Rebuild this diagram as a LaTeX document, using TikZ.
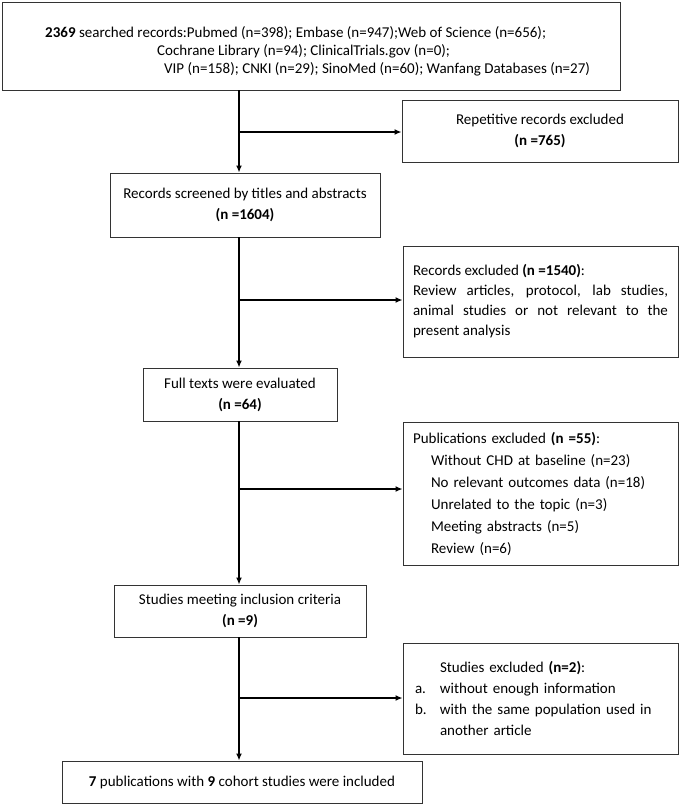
\documentclass[tikz,border=0pt]{standalone}
\usepackage{fontspec}
\setmainfont{Carlito}
\usetikzlibrary{arrows.meta,fit}
\begin{document}
\begin{tikzpicture}[x=1pt,y=-1pt,
  box/.style={draw=black!80, line width=0.9pt, inner sep=0pt, font=\fontsize{15}{21}\selectfont},
  flow/.style={line width=1.4pt, -{Latex[length=7pt,width=6pt]}}]
\useasboundingbox (0,0) rectangle (685,806);

% top box
\node[font=\fontsize{15}{18}\selectfont, align=left, anchor=west, inner sep=0pt] (toptext) at (45,51)
 {\textbf{2369} searched records:Pubmed (n=398); Embase (n=947);Web of Science (n=656);\\
  \hspace*{112pt}Cochrane Library (n=94); ClinicalTrials.gov (n=0);\\
  \hspace*{119pt}VIP (n=158); CNKI (n=29); SinoMed (n=60); Wanfang Databases (n=27)};
\coordinate (topTL) at (2,2);
\path (toptext.east) ++(30,0) coordinate (topR);
\coordinate (topBR) at (topR |- 0,90);
\node[box, fit=(topTL)(topBR), inner sep=0pt] (top) {};

\node[box, minimum width=276pt, minimum height=62pt, align=center] (rep) at (540,131)
 {Repetitive records excluded\\\textbf{(n =765)}};

\node[box, minimum width=270pt, minimum height=64pt, align=center] (screen) at (245,205)
 {Records screened by titles and abstracts\\\textbf{(n =1604)}};

\node[box, text width=255pt, inner xsep=10pt, minimum height=111pt, align=justify,
      font=\fontsize{15}{20}\selectfont] (recex) at (540.5,301.5)
 {Records excluded \textbf{(n =1540)}:\\
  Review articles, protocol, lab studies,\linebreak animal studies or not relevant to the\linebreak present analysis};

\node[box, minimum width=194pt, minimum height=53pt, align=center] (full) at (240,394.5)
 {Full texts were evaluated\\\textbf{(n =64)}};

\node[box, text width=255pt, inner xsep=10pt, minimum height=143pt, align=left,
      font=\fontsize{15}{22}\selectfont] (pubex) at (540.5,493.5)
 {Publications excluded \textbf{(n =55)}:\\
  \hspace*{18pt}Without CHD at baseline (n=23)\\
  \hspace*{18pt}No relevant outcomes data (n=18)\\
  \hspace*{18pt}Unrelated to the topic (n=3)\\
  \hspace*{18pt}Meeting abstracts (n=5)\\
  \hspace*{18pt}Review (n=6)};

\node[box, minimum width=252pt, minimum height=52pt, align=center] (studies) at (240,611)
 {Studies meeting inclusion criteria\\\textbf{(n =9)}};

\node[box, text width=251pt, inner xsep=12pt, minimum height=111pt, align=left] (stex) at (540.5,698.5)
 {\hspace*{25pt}Studies excluded \textbf{(n=2)}:\\
  \makebox[25pt][l]{a.}without enough information\\
  \makebox[25pt][l]{b.}with the same population used in\\
  \hspace*{25pt}another article};

\node[box, minimum width=360pt, minimum height=42pt, align=center] (final) at (242,782)
 {\textbf{7} publications with \textbf{9} cohort studies were included};

% trunk junctions
\coordinate (j1) at (239,132);
\coordinate (j2) at (239,300);
\coordinate (j3) at (239,489);
\coordinate (j4) at (239,698);

\draw[flow] (top.south -| j1) -- (screen.north -| j1);
\draw[flow] (j1) -- (j1 -| rep.west);
\draw[flow] (screen.south -| j2) -- (full.north -| j2);
\draw[flow] (j2) -- (j2 -| recex.west);
\draw[flow] (full.south -| j3) -- (studies.north -| j3);
\draw[flow] (j3) -- (j3 -| pubex.west);
\draw[flow] (studies.south -| j4) -- (final.north -| j4);
\draw[flow] (j4) -- (j4 -| stex.west);
\end{tikzpicture}
\end{document}
